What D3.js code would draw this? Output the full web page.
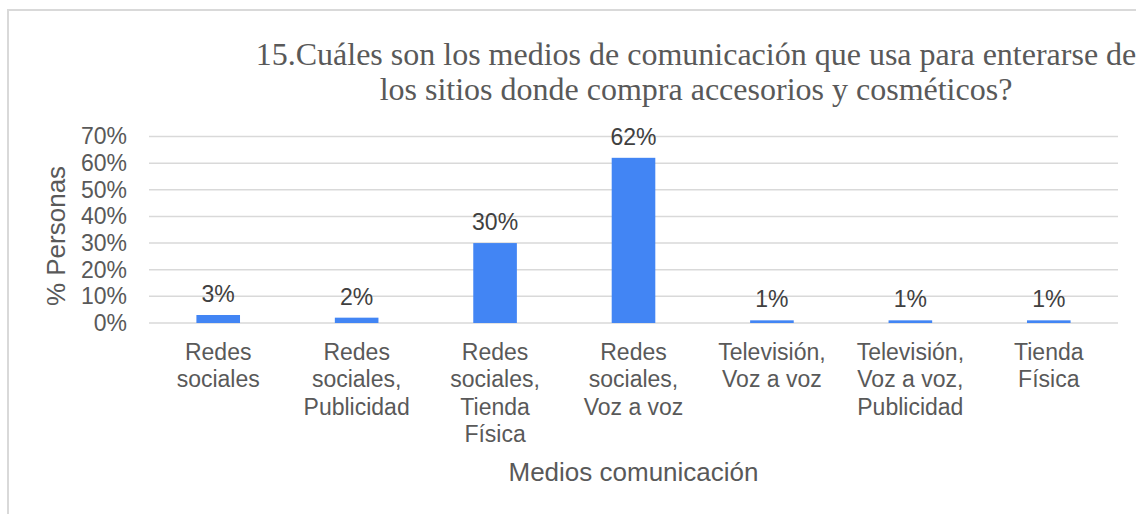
<!DOCTYPE html>
<html>
<head>
<meta charset="utf-8">
<script src="https://cdn.jsdelivr.net/npm/d3@7"></script>
<style>
  html, body { margin: 0; padding: 0; background: #fff; }
  svg { display: block; }
</style>
</head>
<body>
<svg id="chart" width="1136" height="514"></svg>
<script>
const categories = [
  "Redes\nsociales",
  "Redes\nsociales,\nPublicidad",
  "Redes\nsociales,\nTienda\nFísica",
  "Redes\nsociales,\nVoz a voz",
  "Televisión,\nVoz a voz",
  "Televisión,\nVoz a voz,\nPublicidad",
  "Tienda\nFísica"
];
const values = [3, 2, 30, 62, 1, 1, 1];
const valueLabels = ["3%", "2%", "30%", "62%", "1%", "1%", "1%"];
const yTicks = [0, 10, 20, 30, 40, 50, 60, 70];
const titleLines = [
  "15.Cuáles son los medios de comunicación que usa para enterarse de",
  "los sitios donde compra accesorios y cosméticos?"
];
const xTitle = "Medios comunicación";
const yTitle = "% Personas";

const svg = d3.select("#chart");
const textColor = "#595959";
const gridColor = "#d9d9d9";
const barColor = "#4285F4";

// Chart border
svg.append("rect")
  .attr("x", 8).attr("y", 10)
  .attr("width", 1400).attr("height", 700)
  .attr("fill", "none")
  .attr("stroke", gridColor)
  .attr("stroke-width", 2);

const plot = { left: 149, right: 1118, top: 136.5, bottom: 323 };

const x = d3.scaleBand()
  .domain(d3.range(categories.length))
  .range([plot.left, plot.right])
  .paddingInner(0.685)
  .paddingOuter(0.3425);

const y = d3.scaleLinear()
  .domain([0, 70])
  .range([plot.bottom, plot.top]);

// Gridlines
svg.append("g")
  .selectAll("line")
  .data(yTicks)
  .join("line")
  .attr("x1", plot.left).attr("x2", plot.right)
  .attr("y1", d => y(d)).attr("y2", d => y(d))
  .attr("stroke", gridColor)
  .attr("stroke-width", 1.5);

// Y axis labels
const yAxis = d3.axisLeft(y).tickValues(yTicks).tickFormat(d => d + "%").tickSize(0).tickPadding(0);
const yg = svg.append("g").attr("transform", `translate(${plot.left - 22},0)`).call(yAxis);
yg.select(".domain").remove();
yg.selectAll("text")
  .attr("font-family", "Liberation Sans, Arial, sans-serif")
  .attr("font-size", 23)
  .attr("fill", textColor);

// Bars
svg.append("g")
  .selectAll("rect")
  .data(values)
  .join("rect")
  .attr("x", (d, i) => x(i))
  .attr("width", x.bandwidth())
  .attr("y", d => y(d))
  .attr("height", d => y(0) - y(d))
  .attr("fill", barColor);

// Value labels
svg.append("g")
  .selectAll("text")
  .data(values)
  .join("text")
  .attr("x", (d, i) => x(i) + x.bandwidth() / 2)
  .attr("y", d => y(d) - 13)
  .attr("text-anchor", "middle")
  .attr("font-family", "Liberation Sans, Arial, sans-serif")
  .attr("font-size", 23)
  .attr("fill", "#404040")
  .text((d, i) => valueLabels[i]);

// Category labels
const catG = svg.append("g")
  .selectAll("text")
  .data(categories)
  .join("text")
  .attr("text-anchor", "middle")
  .attr("font-family", "Liberation Sans, Arial, sans-serif")
  .attr("font-size", 23)
  .attr("fill", textColor);
catG.each(function(d, i) {
  const cx = x(i) + x.bandwidth() / 2;
  d3.select(this).selectAll("tspan")
    .data(d.split("\n"))
    .join("tspan")
    .attr("x", cx)
    .attr("y", (l, j) => 360 + j * 27.4)
    .text(l => l);
});

// X axis title
svg.append("text")
  .attr("x", (plot.left + plot.right) / 2)
  .attr("y", 481)
  .attr("text-anchor", "middle")
  .attr("font-family", "Liberation Sans, Arial, sans-serif")
  .attr("font-size", 26)
  .attr("fill", textColor)
  .text(xTitle);

// Y axis title
svg.append("text")
  .attr("transform", `translate(65,236) rotate(-90)`)
  .attr("text-anchor", "middle")
  .attr("font-family", "Liberation Sans, Arial, sans-serif")
  .attr("font-size", 26)
  .attr("fill", textColor)
  .text(yTitle);

// Title
svg.append("g")
  .selectAll("text")
  .data(titleLines)
  .join("text")
  .attr("x", 696)
  .attr("y", (d, i) => 65 + i * 35)
  .attr("text-anchor", "middle")
  .attr("font-family", "Liberation Serif, Times New Roman, serif")
  .attr("font-size", 32)
  .attr("fill", textColor)
  .text(d => d);
</script>
</body>
</html>
